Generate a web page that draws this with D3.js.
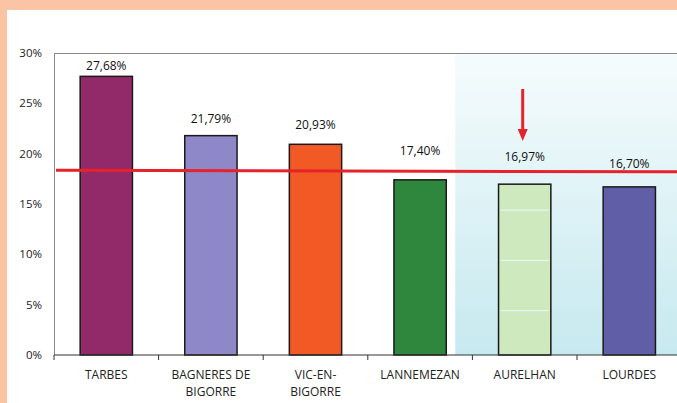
<!DOCTYPE html>
<html lang="fr">
<head>
<meta charset="UTF-8">
<title>Taux par commune</title>
<style>
    body { margin: 0; background: #fbc5a5; }
    svg { display: block; font-family: "Open Sans", Arial, sans-serif; }
</style>
</head>
<body>
<svg id="chart" width="677" height="403"></svg>
<script src="https://d3js.org/d3.v7.min.js"></script>
<script>
// data
const communes = ["TARBES", "BAGNERES DE BIGORRE", "VIC-EN- BIGORRE", "LANNEMEZAN", "AURELHAN", "LOURDES"];
const taux = [27.68, 21.79, 20.93, 17.40, 16.97, 16.70];
const etiquettes = ["27,68%", "21,79%", "20,93%", "17,40%", "16,97%", "16,70%"];
const couleurs = ["#922a6a", "#8e88c8", "#f15a24", "#2e873d", "#cde9bd", "#5f5ea6"];
const labelDy = [-6, -13, -15, -25, -23, -19];
const yTicks = [0, 5, 10, 15, 20, 25, 30];
const reference = [18.35, 18.2];      // red line, left end / right end
const innerLines = [14.4, 9.4, 4.4];  // faint lines drawn inside the AURELHAN bar

const svg = d3.select("#chart");
const W = 677, H = 403;
const mLeft = 54, mTop = 53, mBottom = 355;

svg.append("rect").attr("x", 7).attr("y", 10).attr("width", W - 7).attr("height", H - 10).attr("fill", "#fff");

const x = d3.scaleBand().domain(communes).range([mLeft, mLeft + 6 * 104.6]).paddingInner(0.5).paddingOuter(0.25);
const y = d3.scaleLinear().domain([0, 30]).range([mBottom, mTop]);

// shaded highlight behind the last two communes
const grad = svg.append("defs").append("linearGradient")
    .attr("id", "bleu").attr("x1", 0).attr("y1", 0).attr("x2", 0).attr("y2", 1);
grad.append("stop").attr("offset", "0%").attr("stop-color", "#f6fcfd");
grad.append("stop").attr("offset", "100%").attr("stop-color", "#c6e9ef");

const hlX = x("LANNEMEZAN") + x.bandwidth() + 9;
svg.append("rect")
    .attr("x", hlX).attr("y", mTop)
    .attr("width", W - hlX).attr("height", mBottom - mTop)
    .attr("fill", "url(#bleu)");

// frame: top and left edges
svg.append("line").attr("x1", mLeft).attr("x2", W).attr("y1", mTop + 0.5).attr("y2", mTop + 0.5)
    .attr("stroke", "#8a8a8a").attr("stroke-width", 1);
svg.append("line").attr("x1", mLeft + 0.5).attr("x2", mLeft + 0.5).attr("y1", mTop).attr("y2", mBottom)
    .attr("stroke", "#8a8a8a").attr("stroke-width", 1);

// y tick labels
svg.append("g").selectAll("text")
    .data(yTicks)
    .enter().append("text")
    .attr("x", 42)
    .attr("y", d => y(d) + 4)
    .attr("text-anchor", "end")
    .attr("font-size", 11.5)
    .attr("fill", "#222")
    .text(d => d + "%");

// bars
svg.append("g").selectAll("rect")
    .data(taux)
    .enter().append("rect")
    .attr("x", (d, i) => x(communes[i]))
    .attr("y", d => y(d))
    .attr("width", x.bandwidth())
    .attr("height", d => mBottom - y(d))
    .attr("fill", (d, i) => couleurs[i])
    .attr("stroke", "#1a1a1a")
    .attr("stroke-width", 1.5);

// faint lines inside AURELHAN bar
svg.append("g").selectAll("line")
    .data(innerLines)
    .enter().append("line")
    .attr("x1", x("AURELHAN") + 2)
    .attr("x2", x("AURELHAN") + x.bandwidth() - 2)
    .attr("y1", d => y(d))
    .attr("y2", d => y(d))
    .attr("stroke", "#e6f4f2")
    .attr("stroke-width", 1.2);

// value labels
svg.append("g").selectAll("text")
    .data(taux)
    .enter().append("text")
    .attr("x", (d, i) => x(communes[i]) + x.bandwidth() / 2)
    .attr("y", (d, i) => y(d) + labelDy[i])
    .attr("text-anchor", "middle")
    .attr("font-size", 12)
    .attr("fill", "#111")
    .text((d, i) => etiquettes[i]);

// baseline + x ticks
svg.append("line").attr("x1", mLeft).attr("x2", W).attr("y1", mBottom).attr("y2", mBottom)
    .attr("stroke", "#333").attr("stroke-width", 1.2);
svg.append("g").selectAll("line")
    .data(communes)
    .enter().append("line")
    .attr("x1", d => x(d) - x.bandwidth() / 2)
    .attr("x2", d => x(d) - x.bandwidth() / 2)
    .attr("y1", mBottom)
    .attr("y2", mBottom + 5)
    .attr("stroke", "#333");

// category labels (two-line names split by hand)
const cats = svg.append("g").selectAll("text")
    .data(communes)
    .enter().append("text")
    .attr("text-anchor", "middle")
    .attr("font-size", 12)
    .attr("fill", "#222");
cats.each(function (d) {
    const parts = d === "BAGNERES DE BIGORRE" ? ["BAGNERES DE", "BIGORRE"]
        : d === "VIC-EN- BIGORRE" ? ["VIC-EN-", "BIGORRE"] : [d];
    const cx = x(d) + x.bandwidth() / 2;
    parts.forEach((p, k) => {
        d3.select(this).append("tspan")
            .attr("x", cx)
            .attr("y", 379 + k * 17)
            .text(p);
    });
});

// red reference line
svg.append("line")
    .attr("x1", mLeft + 2).attr("x2", W)
    .attr("y1", y(reference[0])).attr("y2", y(reference[1]))
    .attr("stroke", "#e8222b").attr("stroke-width", 3);

// red arrow over AURELHAN
const ax = x("AURELHAN") + x.bandwidth() / 2 - 2;
svg.append("line").attr("x1", ax).attr("x2", ax).attr("y1", 89).attr("y2", 132)
    .attr("stroke", "#e8222b").attr("stroke-width", 3);
svg.append("path")
    .attr("d", `M${ax - 5},129 L${ax + 5},129 L${ax},141 Z`)
    .attr("fill", "#e8222b");
</script>
</body>
</html>
